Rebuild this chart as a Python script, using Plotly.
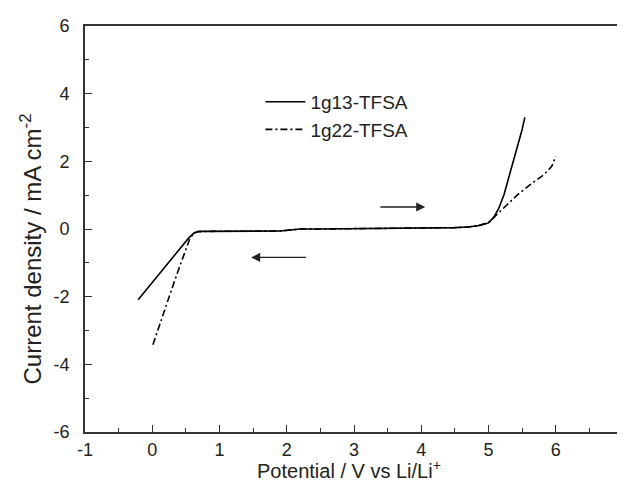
import plotly.graph_objects as go

# 1g13-TFSA (solid)
x_1g13 = [-0.21, 0.0, 0.2, 0.4, 0.54, 0.62, 0.69, 0.8, 1.0, 1.5, 1.9, 2.05, 2.2, 2.5, 3.0, 3.5, 4.0, 4.5,
          4.7, 4.85, 4.95, 5.0, 5.08, 5.15, 5.23, 5.3, 5.4, 5.5, 5.54]
y_1g13 = [-2.09, -1.58, -1.10, -0.61, -0.27, -0.12, -0.07, -0.07, -0.07, -0.06, -0.06, -0.03, 0.0, 0.0,
          0.01, 0.02, 0.02, 0.04, 0.06, 0.10, 0.15, 0.18, 0.35, 0.60, 1.01, 1.50, 2.22, 2.94, 3.30]

# 1g22-TFSA (dash-dot)
x_1g22 = [0.01, 0.1, 0.2, 0.3, 0.4, 0.5, 0.56, 0.62, 0.69, 0.8, 1.0, 1.5, 1.9, 2.05, 2.2, 2.5, 3.0, 3.5,
          4.0, 4.5, 4.7, 4.85, 4.95, 5.03, 5.1, 5.23, 5.43, 5.62, 5.82, 5.94, 6.0]
y_1g22 = [-3.42, -2.88, -2.30, -1.72, -1.15, -0.58, -0.28, -0.12, -0.08, -0.07, -0.07, -0.06, -0.06, -0.03,
          0.0, 0.0, 0.01, 0.02, 0.02, 0.04, 0.06, 0.10, 0.16, 0.23, 0.38, 0.62, 1.01, 1.31, 1.60, 1.85, 2.15]

series_names = ["1g13-TFSA", "1g22-TFSA"]
x_ticks = [-1, 0, 1, 2, 3, 4, 5, 6, 7]
y_ticks = [-6, -4, -2, 0, 2, 4, 6]
x_title = "Potential / V vs Li/Li<sup>+</sup>"
y_title = "Current density / mA cm<sup>-2</sup>"

# sweep-direction arrows: (tail_x, head_x, y)
arrow_anodic = (3.37, 4.06, 0.65)
arrow_cathodic = (2.31, 1.47, -0.84)

FONT = "Arial, Liberation Sans, Helvetica, sans-serif"
AX = "#333333"
TXT = "#222222"

fig = go.Figure()
fig.add_trace(go.Scatter(x=x_1g13, y=y_1g13, mode="lines", name=series_names[0],
                         line=dict(color="black", width=1.6)))
fig.add_trace(go.Scatter(x=x_1g22, y=y_1g22, mode="lines", name=series_names[1],
                         line=dict(color="black", width=1.6, dash="7px,3px,2px,3px")))

for tx, hx, yy in (arrow_anodic, arrow_cathodic):
    fig.add_annotation(x=hx, y=yy, ax=tx, ay=yy, xref="x", yref="y", axref="x", ayref="y",
                       text="", showarrow=True, arrowhead=2, arrowsize=1.3, arrowwidth=1.4,
                       arrowcolor=TXT)

# axis titles as text annotations
fig.add_annotation(text=y_title, xref="paper", yref="paper", x=-0.1, y=0.45,
                   xanchor="center", yanchor="middle", textangle=-90, showarrow=False,
                   font=dict(family=FONT, size=24, color=TXT))
fig.add_annotation(text=x_title, xref="paper", yref="paper", x=0.49, y=-0.092,
                   xanchor="center", yanchor="middle", showarrow=False,
                   font=dict(family=FONT, size=20, color=TXT))

axis_common = dict(showline=True, linecolor=AX, linewidth=1.6, mirror=True,
                   ticks="inside", tickcolor=AX, tickwidth=1.3, ticklen=7,
                   showgrid=False, zeroline=False,
                   tickfont=dict(family=FONT, size=18, color=TXT))

fig.update_xaxes(range=[-1, 7], tickvals=x_ticks, ticktext=[str(v) for v in x_ticks],
                 minor=dict(ticks="inside", dtick=0.5, ticklen=4, tickcolor=AX, tickwidth=1.2),
                 ticklabelstandoff=1, **axis_common)
fig.update_yaxes(range=[-6, 6], tickvals=y_ticks, ticktext=[str(v) for v in y_ticks],
                 minor=dict(ticks="inside", dtick=1, ticklen=4, tickcolor=AX, tickwidth=1.2),
                 ticklabelstandoff=10, **axis_common)

fig.update_layout(
    width=625, height=484,
    margin=dict(l=77, r=5, t=18, b=60),
    paper_bgcolor="white", plot_bgcolor="white",
    showlegend=True,
    legend=dict(x=0.326, y=0.86, xanchor="left", yanchor="top",
                bgcolor="rgba(0,0,0,0)", font=dict(family=FONT, size=19, color=TXT),
                itemwidth=40),
)

fig.write_html("out.html")
